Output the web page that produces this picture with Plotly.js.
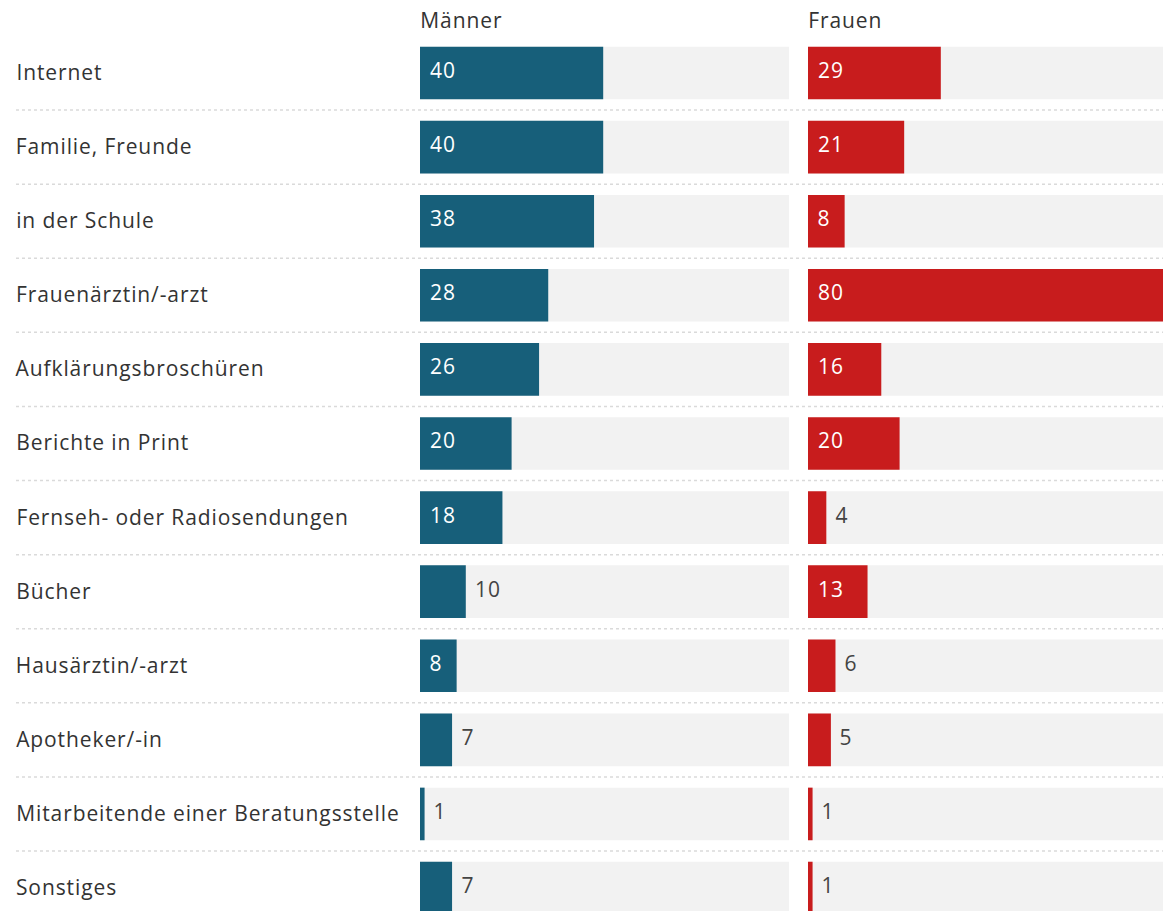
<!DOCTYPE html>
<html>
<head>
<meta charset="utf-8">
<script src="https://cdn.plot.ly/plotly-3.0.1.min.js"></script>
<style>
html,body{margin:0;padding:0;background:#fff;}
#chart{width:1163px;height:911px;}
#chart .annotation-text{letter-spacing:0.9px;}
</style>
</head>
<body>
<div id="chart"></div>
<script>
// ---- data ----
const categories = ["Internet","Familie, Freunde","in der Schule","Frauenärztin/-arzt","Aufklärungsbroschüren","Berichte in Print","Fernseh- oder Radiosendungen","Bücher","Hausärztin/-arzt","Apotheker/-in","Mitarbeitende einer Beratungsstelle","Sonstiges"];
const maenner = [40,40,38,28,26,20,18,10,8,7,1,7];
const frauen  = [29,21,8,80,16,20,4,13,6,5,1,1];
const maennerInside = [true,true,true,true,true,true,true,false,true,false,false,false];
const frauenInside  = [true,true,true,true,true,true,false,true,false,false,false,false];
const seriesNames = ["Männer","Frauen"];

// ---- style ----
const W = 1163;
const LS = 0.9; // letter spacing (px), compensated in xshift since annotation text is centred
const teal = "#175f7a", red = "#c81c1d", grey = "#f2f2f2", txt = "#333333";
const FONT = "'Open Sans', 'Noto Sans', sans-serif";
const idx = categories.map((c,i)=>i);
const halfBar = 0.355;
const comp = s => s.length*LS/2;

const traces = [
  {type:"bar", orientation:"h", x:maenner, y:idx, xaxis:"x", yaxis:"y", marker:{color:teal}, hoverinfo:"skip", width:halfBar*2},
  {type:"bar", orientation:"h", x:frauen, y:idx, xaxis:"x2", yaxis:"y", marker:{color:red}, hoverinfo:"skip", width:halfBar*2}
];

const shapes = [];
idx.forEach(i=>{
  shapes.push({type:"rect", layer:"below", xref:"x domain", yref:"y", x0:0, x1:1, y0:i-halfBar, y1:i+halfBar, fillcolor:grey, line:{width:0}});
  shapes.push({type:"rect", layer:"below", xref:"x2 domain", yref:"y", x0:0, x1:1, y0:i-halfBar, y1:i+halfBar, fillcolor:grey, line:{width:0}});
  if (i < categories.length-1) {
    shapes.push({type:"line", layer:"below", xref:"paper", yref:"y", x0:16/W, x1:1, y0:i+0.5, y1:i+0.5, line:{color:"#dadada", width:1.5, dash:"dot"}});
  }
});

const annotations = [];
categories.forEach((c,i)=>{
  annotations.push({xref:"paper", yref:"y", x:16/W, y:i, xanchor:"left", yanchor:"middle", xshift:-2+comp(c), yshift:1, text:c, showarrow:false, font:{family:FONT, size:21, color:txt}});
});
function valueLabels(vals, inside, xr){
  vals.forEach((v,i)=>{
    const s = String(v);
    annotations.push({
      xref:xr, yref:"y", x: inside[i] ? 0 : v, y:i, xanchor:"left", yanchor:"middle",
      xshift: (inside[i] ? 8 : 7) + comp(s), yshift:3,
      text:s, showarrow:false,
      font:{family:FONT, size:21, color: inside[i] ? "#ffffff" : "#444444"}
    });
  });
}
valueLabels(maenner, maennerInside, "x");
valueLabels(frauen, frauenInside, "x2");
annotations.push({xref:"x domain", yref:"paper", x:0, y:1, xanchor:"left", yanchor:"bottom", yshift:0, xshift:-2+comp(seriesNames[0]), text:seriesNames[0], showarrow:false, font:{family:FONT, size:21, color:txt}});
annotations.push({xref:"x2 domain", yref:"paper", x:0, y:1, xanchor:"left", yanchor:"bottom", yshift:0, xshift:-2+comp(seriesNames[1]), text:seriesNames[1], showarrow:false, font:{family:FONT, size:21, color:txt}});

const layout = {
  width:W, height:911,
  margin:{l:0, r:0, t:36, b:0, pad:0},
  paper_bgcolor:"#ffffff", plot_bgcolor:"rgba(0,0,0,0)",
  showlegend:false, barmode:"overlay",
  xaxis:{domain:[420/W, 789/W], range:[0, 369/4.58], visible:false, fixedrange:true},
  xaxis2:{domain:[808/W, 1], range:[0, 355/4.58], visible:false, fixedrange:true, anchor:"y"},
  yaxis:{range:[11.31, -0.5], visible:false, fixedrange:true},
  shapes:shapes, annotations:annotations,
  font:{family:FONT}
};
Plotly.newPlot("chart", traces, layout, {displayModeBar:false, staticPlot:true});
</script>
</body>
</html>
